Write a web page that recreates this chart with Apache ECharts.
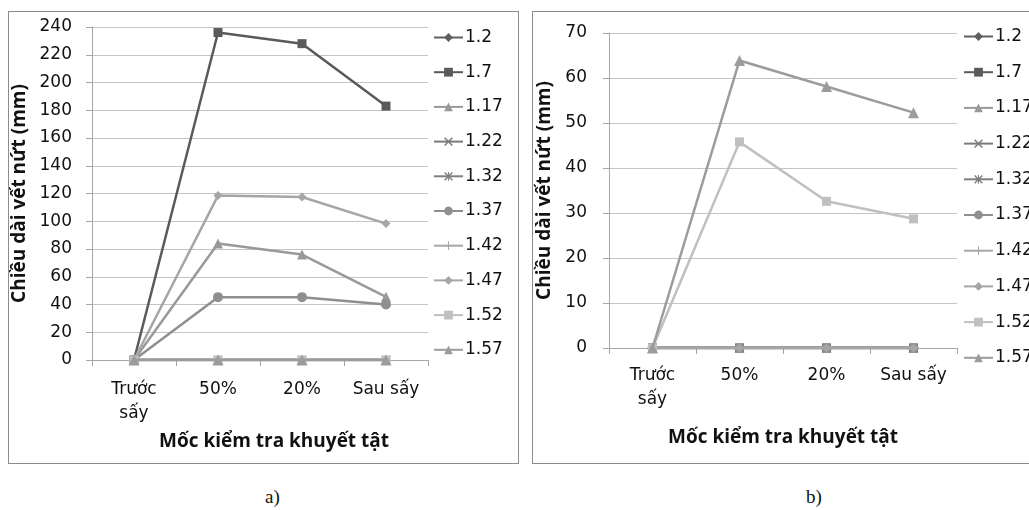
<!DOCTYPE html>
<html>
<head>
<meta charset="utf-8">
<script src="https://cdn.jsdelivr.net/npm/echarts@6/dist/echarts.min.js"></script>
<style>
html,body{margin:0;padding:0;background:#fff;width:1029px;height:510px;overflow:hidden;position:relative;}
.box{position:absolute;border:1px solid #8c8c8c;box-sizing:border-box;}
#ca{left:8px;top:11px;width:511px;height:453px;}
#cb{left:532px;top:11px;width:511px;height:453px;}
.cap{position:absolute;font-family:'Liberation Serif',serif;font-size:19px;color:#111;top:486px;}
</style>
</head>
<body>
<div id="ca" class="box"></div>
<div id="cb" class="box"></div>
<div class="cap" style="left:265px;">a)</div>
<div class="cap" style="left:806px;">b)</div>
<script>
var categories = ['Trước\nsấy', '50%', '20%', 'Sau sấy'];
var seriesNames = ['1.2', '1.7', '1.17', '1.22', '1.32', '1.37', '1.42', '1.47', '1.52', '1.57'];
var yTitle = 'Chiều dài vết nứt (mm)';
var xTitle = 'Mốc kiểm tra khuyết tật';

// Chart a) values
var a_1_2  = [0, 0, 0, 0];
var a_1_7  = [0, 236, 228, 183];
var a_1_17 = [0, 84, 76, 45.5];
var a_1_22 = [0, 0, 0, 0];
var a_1_32 = [0, 0, 0, 0];
var a_1_37 = [0, 45.3, 45.3, 40];
var a_1_42 = [0, 0, 0, 0];
var a_1_47 = [0, 118.5, 117.5, 98.3];
var a_1_52 = [0, 0, 0, 0];
var a_1_57 = [0, 0, 0, 0];

// Chart b) values
var b_1_2  = [0, 0, 0, 0];
var b_1_7  = [0, 0, 0, 0];
var b_1_17 = [0, 0, 0, 0];
var b_1_22 = [0, 0, 0, 0];
var b_1_32 = [0, 0, 0, 0];
var b_1_37 = [0, 0, 0, 0];
var b_1_42 = [0, 0, 0, 0];
var b_1_47 = [0, 0, 0, 0];
var b_1_52 = [0, 45.8, 32.6, 28.7];
var b_1_57 = [0, 63.9, 58.1, 52.3];

var FONT = 'DejaVu Sans';
var TFONT = 'Open Sans';
var xSym = 'path://M0,1.2L1.2,0L10,8.8L8.8,10Z M8.8,0L10,1.2L1.2,10L0,8.8Z';
var starSym = 'path://M0,1.2L1.2,0L10,8.8L8.8,10Z M8.8,0L10,1.2L1.2,10L0,8.8Z M4.4,0H5.6V10H4.4Z';
var plusSym = 'path://M4.4,0H5.6V10H4.4Z M0,4.4H10V5.6H0Z';

var styles = [
  {c:'#5f5f5f', s:'diamond', z:9},
  {c:'#5a5a5a', s:'rect', z:9},
  {c:'#999999', s:'triangle', z:10},
  {c:'#7a7a7a', s:xSym, z:9},
  {c:'#7f7f7f', s:starSym, z:9},
  {c:'#8f8f8f', s:'circle', z:10},
  {c:'#a8a8a8', s:plusSym, z:9},
  {c:'#a6a6a6', s:'diamond', z:9},
  {c:'#c0c0c0', s:'rect', z:9},
  {c:'#9c9c9c', s:'triangle', z:11}
];

function buildSeries(vals) {
  return seriesNames.map(function (n, i) {
    var st = styles[i];
    return {
      name: n, type: 'line', data: vals[i],
      symbol: st.s, symbolSize: st.z,
      showSymbol: true, z: 2 + i * 0.01,
      lineStyle: {color: st.c, width: 2.5},
      itemStyle: {color: st.c, borderWidth: 0},
      emphasis: {disabled: true},
      animation: false
    };
  });
}

function buildOption(cfg) {
  return {
    animation: false,
    textStyle: {fontFamily: FONT},
    grid: {left: cfg.gl, top: cfg.gt, width: cfg.gw, height: cfg.gh, containLabel: false, outerBoundsMode: 'none'},
    legend: {
      orient: 'vertical', left: cfg.ll, top: cfg.lt, padding: 0,
      itemWidth: 29, itemHeight: 11, itemGap: cfg.lg,
      textStyle: {fontFamily: FONT, fontSize: 17, lineHeight: 17, color: '#111', padding: [0, 0, 0, -3]},
      data: seriesNames
    },
    xAxis: {
      type: 'category', data: categories, boundaryGap: true,
      axisLine: {lineStyle: {color: '#a6a6a6', width: 1}},
      axisTick: {show: true, length: 6, alignWithLabel: false, lineStyle: {color: '#a6a6a6'}},
      axisLabel: {fontFamily: FONT, fontSize: 17, color: '#111', margin: cfg.xm, lineHeight: 24, interval: 0},
      name: xTitle, nameLocation: 'middle', nameGap: cfg.xng,
      nameTextStyle: {fontFamily: TFONT, fontSize: 19, fontWeight: 'bold', color: '#111', padding: cfg.xnp}
    },
    yAxis: {
      type: 'value', min: 0, max: cfg.ymax, interval: cfg.yint,
      axisLine: {show: true, lineStyle: {color: '#a6a6a6', width: 1}},
      axisTick: {show: true, length: 6, lineStyle: {color: '#a6a6a6'}},
      splitLine: {lineStyle: {color: '#c4c4c4', width: 1}},
      axisLabel: {fontFamily: FONT, fontSize: 17, color: '#111', margin: cfg.ym},
      name: yTitle, nameLocation: 'middle', nameGap: cfg.yng, nameRotate: 90,
      nameTextStyle: {fontFamily: TFONT, fontSize: 19, fontWeight: 'bold', color: '#111'}
    },
    series: buildSeries(cfg.vals)
  };
}

var ca = echarts.init(document.getElementById('ca'), null, {renderer: 'canvas'});
ca.setOption(buildOption({
  gl: 83, gt: 15, gw: 336, gh: 333,
  ll: 424, lt: 17, lg: 17.7,
  xm: 18, xng: 72, xnp: [0, 0, 0, 28],
  ymax: 240, yint: 20, ym: 20, yng: 56,
  vals: [a_1_2, a_1_7, a_1_17, a_1_22, a_1_32, a_1_37, a_1_42, a_1_47, a_1_52, a_1_57]
}));

var cb = echarts.init(document.getElementById('cb'), null, {renderer: 'canvas'});
cb.setOption(buildOption({
  gl: 76, gt: 21, gw: 348, gh: 315,
  ll: 430, lt: 16, lg: 18.7,
  xm: 16, xng: 80, xnp: [0, 0, 0, 0],
  ymax: 70, yint: 10, ym: 22, yng: 48,
  vals: [b_1_2, b_1_7, b_1_17, b_1_22, b_1_32, b_1_37, b_1_42, b_1_47, b_1_52, b_1_57]
}));
</script>
</body>
</html>
